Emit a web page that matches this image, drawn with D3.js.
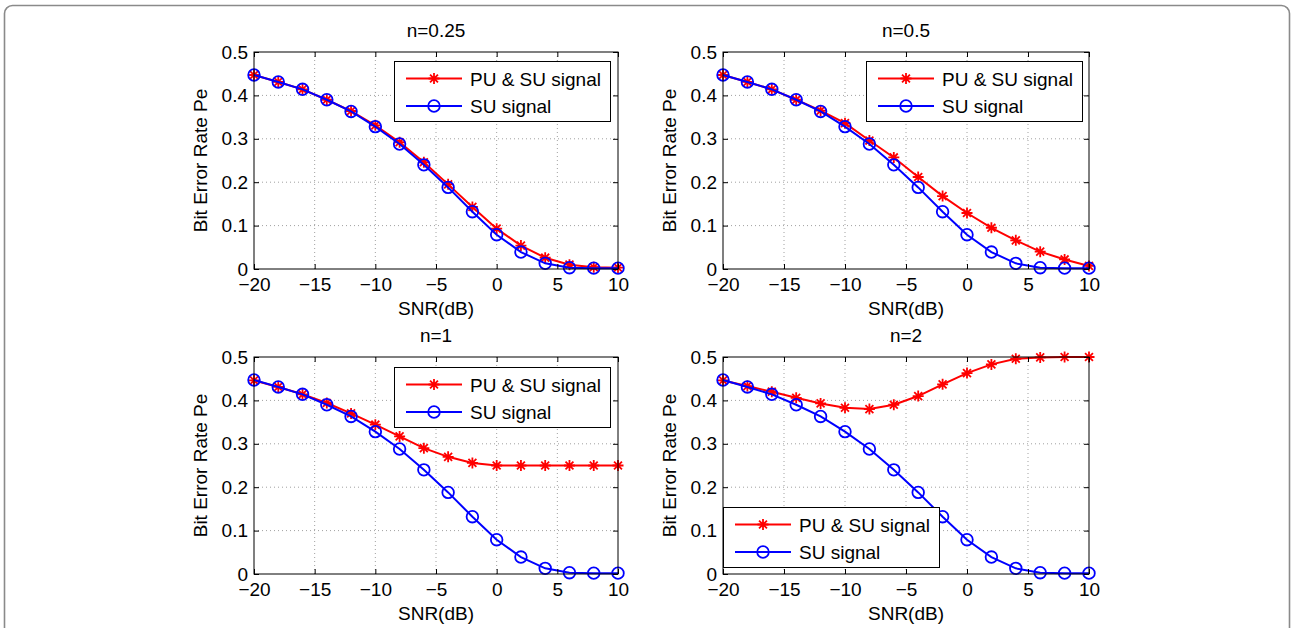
<!DOCTYPE html>
<html>
<head>
<meta charset="utf-8">
<script src="https://cdn.jsdelivr.net/npm/d3@7"></script>
<style>
  html, body { margin: 0; padding: 0; background: #fff; }
  svg { display: block; }
  text { font-family: "Liberation Sans", Arial, Helvetica, sans-serif; fill: #000; }
</style>
</head>
<body>
<svg id="chart" width="1291" height="628"></svg>
<script>
// ---------------- data ----------------
const snrDb = [-20, -18, -16, -14, -12, -10, -8, -6, -4, -2, 0, 2, 4, 6, 8, 10];
const suSignal = [0.447, 0.431, 0.414, 0.390, 0.363, 0.328, 0.288, 0.240, 0.188, 0.132, 0.079, 0.039, 0.013, 0.003, 0.002, 0.002];
const puSuN025 = [0.447, 0.431, 0.414, 0.390, 0.364, 0.331, 0.292, 0.246, 0.195, 0.143, 0.093, 0.054, 0.026, 0.010, 0.004, 0.003];
const puSuN05  = [0.447, 0.431, 0.414, 0.390, 0.365, 0.336, 0.296, 0.257, 0.212, 0.168, 0.129, 0.095, 0.066, 0.040, 0.022, 0.007];
const puSuN1   = [0.446, 0.431, 0.414, 0.394, 0.370, 0.344, 0.317, 0.290, 0.270, 0.256, 0.250, 0.250, 0.250, 0.250, 0.250, 0.250];
const puSuN2   = [0.446, 0.433, 0.420, 0.406, 0.393, 0.383, 0.380, 0.390, 0.410, 0.437, 0.463, 0.483, 0.496, 0.499, 0.500, 0.500];
const panelTitles = ["n=0.25", "n=0.5", "n=1", "n=2"];
const seriesNames = ["PU & SU signal", "SU signal"];
const xTickValues = [-20, -15, -10, -5, 0, 5, 10];
const yTickValues = [0, 0.1, 0.2, 0.3, 0.4, 0.5];
const xLabel = "SNR(dB)";
const yLabel = "Bit Error Rate Pe";
const puSuSeries = [puSuN025, puSuN05, puSuN1, puSuN2];

// ---------------- layout ----------------
const svg = d3.select("#chart");
const FONT = 19;
const LW = 2;
const cols = [[254, 618], [723, 1089]];
const rows = [[52, 269], [357, 574]];
const legendPos = [
  {x: 394, y: 61},
  {x: 866, y: 61},
  {x: 394, y: 367},
  {x: 723, y: 507}
];
const legendW = 216, legendH = 60;

// outer frame
svg.append("rect")
  .attr("x", 4.5).attr("y", 5.5)
  .attr("width", 1285).attr("height", 650)
  .attr("rx", 8).attr("ry", 8)
  .attr("fill", "none").attr("stroke", "#8a8a8a").attr("stroke-width", 1.6);

const starPath = (s) => {
  const d = s * 0.72;
  return `M${-s},0L${s},0M0,${-s}L0,${s}M${-d},${-d}L${d},${d}M${-d},${d}L${d},${-d}`;
};

panelTitles.forEach((title, i) => {
  const c = cols[i % 2], r = rows[Math.floor(i / 2)];
  const x = d3.scaleLinear().domain([-20, 10]).range(c);
  const y = d3.scaleLinear().domain([0, 0.5]).range([r[1], r[0]]);
  const g = svg.append("g");

  // grid
  const grid = g.append("g").attr("stroke", "#a0a0a0").attr("stroke-width", 1).attr("stroke-dasharray", "1,3");
  xTickValues.slice(1, -1).forEach(v => {
    grid.append("line").attr("x1", x(v)).attr("x2", x(v)).attr("y1", r[0]).attr("y2", r[1]);
  });
  yTickValues.slice(1, -1).forEach(v => {
    grid.append("line").attr("x1", c[0]).attr("x2", c[1]).attr("y1", y(v)).attr("y2", y(v));
  });

  const line = d3.line().x((d, k) => x(snrDb[k])).y(d => y(d));

  const red = puSuSeries[i];
  g.append("path").datum(red).attr("d", line)
    .attr("fill", "none").attr("stroke", "#ff0000").attr("stroke-width", LW);
  g.append("g").selectAll("path").data(red).join("path")
    .attr("transform", (d, k) => `translate(${x(snrDb[k])},${y(d)})`)
    .attr("d", starPath(5.5))
    .attr("stroke", "#ff0000").attr("stroke-width", 1.8).attr("fill", "none");

  g.append("path").datum(suSignal).attr("d", line)
    .attr("fill", "none").attr("stroke", "#0000ff").attr("stroke-width", LW);
  g.append("g").selectAll("circle").data(suSignal).join("circle")
    .attr("cx", (d, k) => x(snrDb[k])).attr("cy", d => y(d)).attr("r", 5.8)
    .attr("stroke", "#0000ff").attr("stroke-width", 1.8).attr("fill", "none");

  // axes with inward ticks on all sides
  const fmtX = d3.format("d");
  const fmtY = (v) => v === 0 ? "0" : d3.format(".1f")(v);
  const axB = d3.axisBottom(x).tickValues(xTickValues).tickSizeInner(-5).tickSizeOuter(0).tickPadding(9).tickFormat(fmtX);
  const axT = d3.axisTop(x).tickValues(xTickValues).tickSizeInner(-5).tickSizeOuter(0).tickFormat("");
  const axL = d3.axisLeft(y).tickValues(yTickValues).tickSizeInner(-5).tickSizeOuter(0).tickPadding(6).tickFormat(fmtY);
  const axR = d3.axisRight(y).tickValues(yTickValues).tickSizeInner(-5).tickSizeOuter(0).tickFormat("");

  const styleAxis = (sel) => {
    sel.select(".domain").remove();
    sel.selectAll("line").attr("stroke", "#000").attr("stroke-width", 1);
    sel.selectAll("text").attr("font-size", FONT).attr("fill", "#000")
      .style("font-family", '"Liberation Sans", Arial, sans-serif');
  };
  g.append("g").attr("transform", `translate(0,${r[1]})`).call(axB).call(styleAxis)
    .selectAll("text").attr("dy", "0.71em");
  g.append("g").attr("transform", `translate(0,${r[0]})`).call(axT).call(styleAxis);
  g.append("g").attr("transform", `translate(${c[0]},0)`).call(axL).call(styleAxis);
  g.append("g").attr("transform", `translate(${c[1]},0)`).call(axR).call(styleAxis);

  g.append("rect").attr("x", c[0]).attr("y", r[0])
    .attr("width", c[1] - c[0]).attr("height", r[1] - r[0])
    .attr("fill", "none").attr("stroke", "#000").attr("stroke-width", 1);

  // labels
  const cx = (c[0] + c[1]) / 2;
  g.append("text").attr("x", cx).attr("y", r[0] - 15).attr("text-anchor", "middle")
    .attr("font-size", FONT).text(title);
  g.append("text").attr("x", cx).attr("y", r[1] + 46).attr("text-anchor", "middle")
    .attr("font-size", FONT).text(xLabel);
  g.append("text")
    .attr("transform", `translate(${c[0] - 47},${(r[0] + r[1]) / 2}) rotate(-90)`)
    .attr("text-anchor", "middle").attr("font-size", FONT).text(yLabel);

  // legend
  const lp = legendPos[i];
  const lg = g.append("g").attr("transform", `translate(${lp.x},${lp.y})`);
  lg.append("rect").attr("x", 0.5).attr("y", 0.5).attr("width", legendW).attr("height", legendH)
    .attr("fill", "#fff").attr("stroke", "#000").attr("stroke-width", 1);
  const rowY = [17.5, 45];
  seriesNames.forEach((name, k) => {
    const yy = rowY[k];
    const col = k === 0 ? "#ff0000" : "#0000ff";
    lg.append("line").attr("x1", 12).attr("x2", 68).attr("y1", yy).attr("y2", yy)
      .attr("stroke", col).attr("stroke-width", LW);
    if (k === 0) {
      lg.append("path").attr("transform", `translate(40,${yy})`).attr("d", starPath(5.5))
        .attr("stroke", col).attr("stroke-width", 1.8).attr("fill", "none");
    } else {
      lg.append("circle").attr("cx", 40).attr("cy", yy).attr("r", 5.8)
        .attr("stroke", col).attr("stroke-width", 1.8).attr("fill", "none");
    }
    lg.append("text").attr("x", 76).attr("y", yy + 7).attr("font-size", FONT).text(name);
  });
});
</script>
</body>
</html>
